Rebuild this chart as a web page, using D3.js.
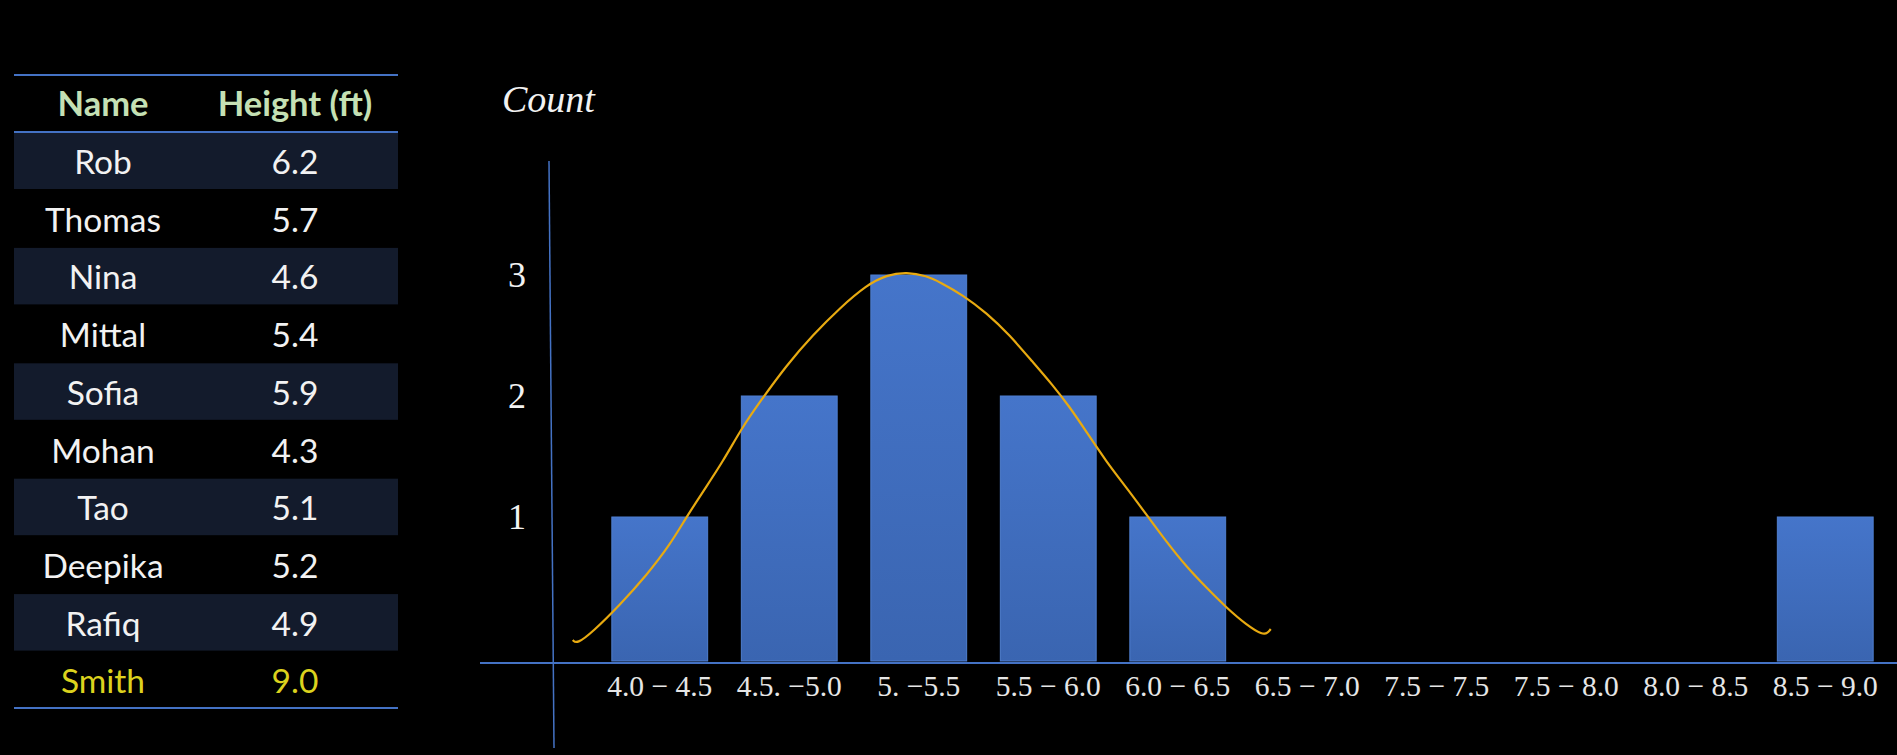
<!DOCTYPE html>
<html>
<head>
<meta charset="utf-8">
<script src="https://cdn.jsdelivr.net/npm/d3@7"></script>
<style>
  html, body { margin: 0; padding: 0; background: #000; }
  svg { display: block; }
</style>
</head>
<body>
<svg id="chart" width="1897" height="755"></svg>
<script>
// table on the left
var names   = ["Rob", "Thomas", "Nina", "Mittal", "Sofia", "Mohan", "Tao", "Deepika", "Rafiq", "Smith"];
var heights = [6.2, 5.7, 4.6, 5.4, 5.9, 4.3, 5.1, 5.2, 4.9, 9.0];
var outlier = "Smith";

// histogram bins (labels as written on the slide)
var binLabels = ["4.0 \u2212 4.5", "4.5. \u22125.0", "5. \u22125.5", "5.5 \u2212 6.0", "6.0 \u2212 6.5",
                 "6.5 \u2212 7.0", "7.5 \u2212 7.5", "7.5 \u2212 8.0", "8.0 \u2212 8.5", "8.5 \u2212 9.0"];
var binCounts = [1, 2, 3, 2, 1, 0, 0, 0, 0, 1];
var countTicks = [1, 2, 3];

// hand drawn bell curve (height in ft, count)
var curveH = [3.914, 3.930, 3.991, 4.096, 4.200, 4.289, 4.351, 4.416, 4.493, 4.567, 4.636, 4.740,
              4.841, 4.945, 5.049, 5.126, 5.204, 5.281, 5.331, 5.420, 5.512, 5.601, 5.690, 5.767,
              5.833, 5.898, 5.975, 6.053, 6.130, 6.207, 6.284, 6.362, 6.439, 6.516, 6.578, 6.597, 6.609];
var curveC = [-0.017, -0.050, 0.050, 0.273, 0.521, 0.769, 0.992, 1.207, 1.455, 1.736, 1.950, 2.256,
              2.504, 2.727, 2.917, 3.000, 3.025, 2.992, 2.942, 2.835, 2.686, 2.504, 2.281, 2.091,
              1.909, 1.702, 1.455, 1.240, 1.017, 0.793, 0.587, 0.413, 0.248, 0.107, 0.025, 0.041, 0.074];

var svg = d3.select("#chart");
var lineBlue = "#4472c4";

// ---------- table ----------
var tbl = svg.append("g");
var rowTop = 132.5, rowH = 57.7, colName = 103, colHeight = 295;

tbl.selectAll("rect.shade")
  .data(names.filter(function(d, i){ return i % 2 == 0; }))
  .enter().append("rect")
  .attr("x", 14)
  .attr("y", function(d){ return rowTop + names.indexOf(d) * rowH; })
  .attr("width", 384)
  .attr("height", 56.5)
  .attr("fill", "#131b2c");

[75, 132, 708].forEach(function(yy){
  tbl.append("line").attr("x1", 14).attr("x2", 398).attr("y1", yy).attr("y2", yy)
    .attr("stroke", lineBlue).attr("stroke-width", 2);
});

tbl.selectAll("text.head")
  .data([["Name", colName], ["Height (ft)", colHeight]])
  .enter().append("text")
  .attr("x", function(d){ return d[1]; })
  .attr("y", 116)
  .attr("text-anchor", "middle")
  .attr("font-family", "Lato, 'Noto Sans', sans-serif")
  .attr("font-weight", "bold")
  .attr("font-size", 34.5)
  .attr("fill", "#c5e0b4")
  .text(function(d){ return d[0]; });

var rows = tbl.selectAll("g.row")
  .data(names)
  .enter().append("g")
  .attr("transform", function(d, i){ return "translate(0," + (174 + i * rowH) + ")"; })
  .attr("font-family", "Lato, 'Noto Sans', sans-serif")
  .attr("font-size", 33.5)
  .attr("text-anchor", "middle")
  .attr("fill", function(d){ return d == outlier ? "#dcd21e" : "#f2f2f2"; });

rows.append("text").attr("x", colName).text(function(d){ return d; });
rows.append("text").attr("x", colHeight).text(function(d, i){ return d3.format(".1f")(heights[i]); });

// ---------- histogram ----------
var x = d3.scaleBand().domain(binLabels).range([595, 1890]).paddingInner(0.26).paddingOuter(0.13);
var xh = d3.scaleLinear().domain([4.0, 9.0]).range([595, 1890]);
var y = d3.scaleLinear().domain([0, 3]).range([638, 275]);
var baseY = 661;

var defs = svg.append("defs");
var grad = defs.append("linearGradient").attr("id", "barGrad")
  .attr("x1", 0).attr("y1", 0).attr("x2", 0).attr("y2", 1);
grad.append("stop").attr("offset", "0%").attr("stop-color", "#4575ca");
grad.append("stop").attr("offset", "100%").attr("stop-color", "#3a65b1");

svg.append("g").selectAll("rect")
  .data(binLabels.filter(function(d, i){ return binCounts[i] > 0; }))
  .enter().append("rect")
  .attr("x", function(d){ return x(d); })
  .attr("y", function(d){ return y(binCounts[binLabels.indexOf(d)]); })
  .attr("width", x.bandwidth())
  .attr("height", function(d){ return baseY - y(binCounts[binLabels.indexOf(d)]); })
  .attr("fill", "url(#barGrad)")
  .attr("stroke", "#4f7fd0")
  .attr("stroke-width", 1);

// axis lines
svg.append("line").attr("x1", 549).attr("y1", 161).attr("x2", 554).attr("y2", 748)
  .attr("stroke", lineBlue).attr("stroke-width", 1.5);
svg.append("line").attr("x1", 480).attr("y1", 663).attr("x2", 1897).attr("y2", 663)
  .attr("stroke", lineBlue).attr("stroke-width", 2);

// y ticks
var gy = svg.append("g").attr("transform", "translate(550,0)")
  .call(d3.axisLeft(y).tickValues(countTicks).tickSize(0).tickPadding(24).tickFormat(d3.format("d")));
gy.select(".domain").remove();
gy.selectAll("text")
  .attr("font-family", "'Liberation Serif', 'DejaVu Serif', serif")
  .attr("font-size", 36)
  .attr("fill", "#f2f2f2");

// x labels
var gx = svg.append("g").attr("transform", "translate(0,663)")
  .call(d3.axisBottom(x).tickSize(0).tickPadding(12));
gx.select(".domain").remove();
gx.selectAll("text")
  .attr("font-family", "'Liberation Serif', 'DejaVu Serif', serif")
  .attr("font-size", 29.5)
  .attr("fill", "#e6e6e6");

// bell curve
var pts = curveH.map(function(h, i){ return [xh(h), y(curveC[i])]; });
svg.append("path")
  .attr("d", d3.line().curve(d3.curveBasis)(pts))
  .attr("fill", "none")
  .attr("stroke", "#e8aa10")
  .attr("stroke-width", 2.2);

// axis title
svg.append("text")
  .attr("x", 502).attr("y", 112)
  .attr("font-family", "'Liberation Serif', 'DejaVu Serif', serif")
  .attr("font-style", "italic")
  .attr("font-size", 38)
  .attr("fill", "#f2f2f2")
  .text("Count");
</script>
</body>
</html>
